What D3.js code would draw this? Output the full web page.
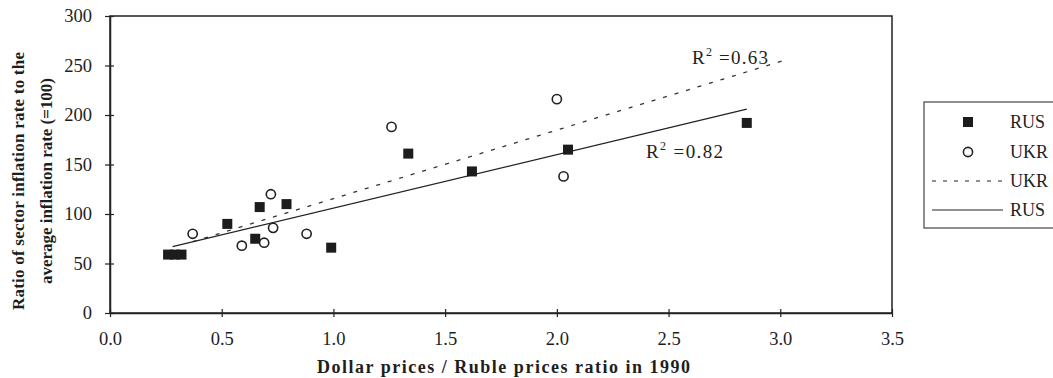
<!DOCTYPE html>
<html>
<head>
<meta charset="utf-8">
<script src="https://cdn.jsdelivr.net/npm/d3@7"></script>
<style>
    body { margin: 0; background: #fff; }
    svg text { font-family: "Liberation Serif", "Times New Roman", serif; fill: #1e1e1e; }
</style>
</head>
<body>
<div id="chart"></div>
<script>
// RUS sectors (squares)
const rusX = [0.26, 0.29, 0.32, 0.525, 0.67, 0.65, 0.79, 0.99, 1.335, 1.62, 2.05, 2.85];
const rusY = [59, 59, 59, 90, 107, 75, 110, 66, 161, 143, 165, 192];
// UKR sectors (circles)
const ukrX = [0.37, 0.59, 0.72, 0.69, 0.73, 0.88, 1.26, 2.0, 2.03];
const ukrY = [80, 68, 120, 71, 86, 80, 188, 216, 138];
// trend lines, end points
const rusTrendX = [0.28, 2.85], rusTrendY = [67, 206];
const ukrTrendX = [0.37, 3.03], ukrTrendY = [72, 256];
const rusR2 = '0.82', ukrR2 = '0.63';

const xTicks = [0, 0.5, 1, 1.5, 2, 2.5, 3, 3.5];
const yTicks = [0, 50, 100, 150, 200, 250, 300];
const legendItems = ['RUS', 'UKR', 'UKR', 'RUS'];

const width = 1053, height = 378;
const margin = {left: 110, right: 161, top: 16, bottom: 65};

const xScale = d3.scaleLinear().domain([0, 3.5]).range([margin.left, width - margin.right]);
const yScale = d3.scaleLinear().domain([0, 300]).range([height - margin.bottom, margin.top]);

const svg = d3.select('#chart').append('svg')
    .attr('width', width)
    .attr('height', height);

// frame
svg.append('rect')
    .attr('x', xScale(0)).attr('y', yScale(300))
    .attr('width', xScale(3.5) - xScale(0))
    .attr('height', yScale(0) - yScale(300))
    .attr('fill', 'none').attr('stroke', '#222').attr('stroke-width', 1.5);

const xAxis = d3.axisBottom(xScale).tickValues(xTicks).tickFormat(d3.format('.1f')).tickSize(4).tickSizeOuter(0);
const gX = svg.append('g')
    .attr('transform', `translate(0,${yScale(0)})`)
    .call(xAxis);
gX.select('.domain').attr('stroke', '#222').attr('stroke-width', 1.5);
gX.selectAll('.tick line').attr('y1', -4).attr('y2', 4).attr('stroke', '#222').attr('stroke-width', 1.2);
gX.selectAll('.tick text').attr('y', 19).attr('font-size', 18.5).attr('font-family', 'Liberation Serif').attr('fill', '#2a2a2a');

const yAxis = d3.axisLeft(yScale).tickValues(yTicks).tickSize(4).tickPadding(14).tickSizeOuter(0);
const gY = svg.append('g')
    .attr('transform', `translate(${xScale(0)},0)`)
    .call(yAxis);
gY.select('.domain').attr('stroke', '#222').attr('stroke-width', 1.5);
gY.selectAll('.tick line').attr('x1', -5).attr('x2', 4).attr('stroke', '#222').attr('stroke-width', 1.2);
gY.selectAll('.tick text').attr('font-size', 18.5).attr('font-family', 'Liberation Serif').attr('fill', '#2a2a2a');

// axis titles
svg.append('text')
    .attr('x', 317).attr('y', 373)
    .attr('font-size', 18).attr('font-weight', 'bold')
    .attr('textLength', 373).attr('lengthAdjust', 'spacing')
    .text('Dollar prices / Ruble prices ratio in 1990');

const yTitle = svg.append('g').attr('transform', 'translate(0,181) rotate(-90)');
yTitle.append('text')
    .attr('x', 0).attr('y', 24)
    .attr('text-anchor', 'middle')
    .attr('font-size', 17).attr('font-weight', 'bold')
    .attr('textLength', 258).attr('lengthAdjust', 'spacing')
    .text('Ratio of sector inflation rate to the');
yTitle.append('text')
    .attr('x', 0).attr('y', 52)
    .attr('text-anchor', 'middle')
    .attr('font-size', 17).attr('font-weight', 'bold')
    .attr('textLength', 206).attr('lengthAdjust', 'spacing')
    .text('average inflation rate (=100)');

// trend lines
const line = d3.line().x(d => xScale(d[0])).y(d => yScale(d[1]));
svg.append('path')
    .datum(ukrTrendX.map((x, i) => [x, ukrTrendY[i]]))
    .attr('d', line)
    .attr('fill', 'none').attr('stroke', '#333').attr('stroke-width', 1.3)
    .attr('stroke-dasharray', '4,8');
svg.append('path')
    .datum(rusTrendX.map((x, i) => [x, rusTrendY[i]]))
    .attr('d', line)
    .attr('fill', 'none').attr('stroke', '#222').attr('stroke-width', 1.2);

// points
const sq = 10;
svg.append('g').selectAll('rect')
    .data(rusX.map((x, i) => ({x: x, y: rusY[i]})))
    .enter()
    .append('rect')
    .attr('x', d => xScale(d.x) - sq / 2)
    .attr('y', d => yScale(d.y) - sq / 2)
    .attr('width', sq).attr('height', sq)
    .attr('fill', '#1c1c1c');

svg.append('g').selectAll('circle')
    .data(ukrX.map((x, i) => ({x: x, y: ukrY[i]})))
    .enter()
    .append('circle')
    .attr('cx', d => xScale(d.x))
    .attr('cy', d => yScale(d.y))
    .attr('r', 4.6)
    .attr('fill', '#fff').attr('stroke', '#222').attr('stroke-width', 1.6);

// R² labels
function r2Label(x, y, value, len) {
    const t = svg.append('text')
        .attr('x', x).attr('y', y)
        .attr('font-size', 19)
        .attr('textLength', len).attr('lengthAdjust', 'spacing');
    t.append('tspan').text('R');
    t.append('tspan').attr('font-size', 12).attr('dy', -8).text('2');
    t.append('tspan').attr('dy', 8).text('  =' + value);
}
r2Label(692, 64, ukrR2, 76);
r2Label(646, 158, rusR2, 77);

// legend
const legend = svg.append('g');
legend.append('rect')
    .attr('x', 924).attr('y', 102)
    .attr('width', 140).attr('height', 126)
    .attr('fill', '#fff').attr('stroke', '#444').attr('stroke-width', 1.2);

const legendY = [122, 152, 181, 210];
legendItems.forEach((name, i) => {
    const y = legendY[i];
    if (i === 0) {
        legend.append('rect').attr('x', 963).attr('y', y - 5).attr('width', sq).attr('height', sq).attr('fill', '#1c1c1c');
    } else if (i === 1) {
        legend.append('circle').attr('cx', 968).attr('cy', y).attr('r', 4.6)
            .attr('fill', '#fff').attr('stroke', '#222').attr('stroke-width', 1.6);
    } else {
        legend.append('line').attr('x1', 932).attr('x2', 1003).attr('y1', y).attr('y2', y)
            .attr('stroke', '#222').attr('stroke-width', 1.2)
            .attr('stroke-dasharray', i === 2 ? '4,7' : null);
    }
    legend.append('text')
        .attr('x', 1010).attr('y', y + 6)
        .attr('font-size', 18)
        .text(name);
});
</script>
</body>
</html>
